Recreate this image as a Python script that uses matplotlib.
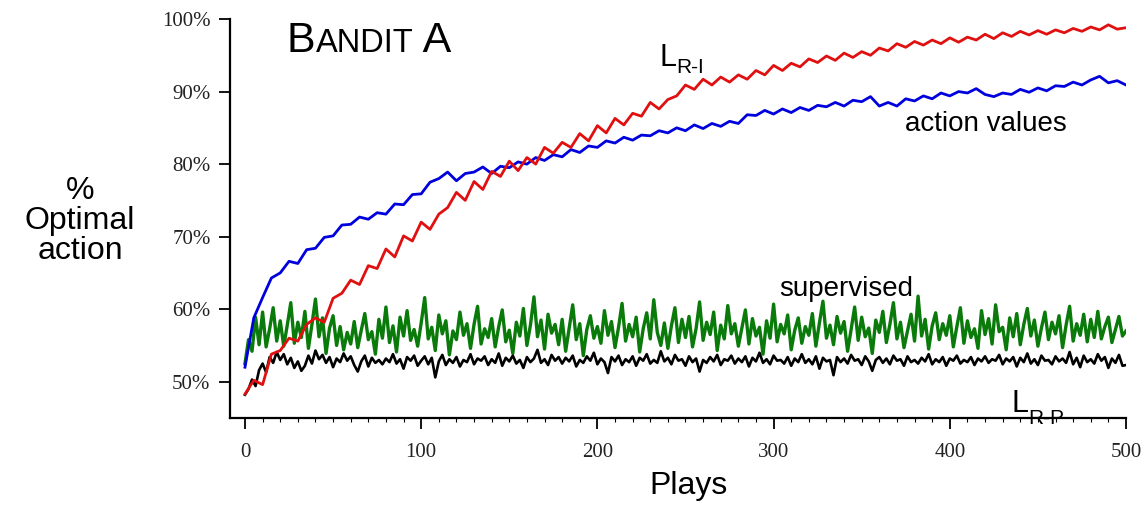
import numpy as np
import matplotlib
matplotlib.use("Agg")
import matplotlib.pyplot as plt
from matplotlib.offsetbox import TextArea, HPacker, AnnotationBbox

# % optimal action
# red / blue sampled every 5 plays, green / black every 2 plays
lri = [48.3, 50.2, 49.6, 53.8, 54.3, 56.0, 55.6, 57.9, 58.8, 58.2,
       61.5, 62.2, 64.0, 63.4, 66.0, 65.6, 68.3, 67.2, 70.1, 69.4,
       72.0, 71.0, 73.1, 74.0, 76.1, 75.0, 77.6, 76.5, 79.0, 78.3,
       80.4, 79.1, 80.9, 80.0, 82.3, 81.5, 83.0, 82.3, 84.2, 83.2,
       85.3, 84.3, 86.3, 85.4, 87.0, 86.6, 88.5, 87.6, 88.9, 89.4,
       90.9, 90.3, 91.7, 90.9, 92.0, 91.3, 92.3, 91.7, 92.9, 92.3,
       93.6, 92.9, 93.9, 93.4, 94.5, 94.0, 94.9, 94.3, 95.3, 94.7,
       95.5, 95.0, 96.0, 95.6, 96.6, 96.1, 96.9, 96.4, 97.1, 96.6,
       97.4, 96.8, 97.5, 97.1, 97.9, 97.3, 98.1, 97.6, 98.3, 97.8,
       98.4, 97.9, 98.5, 98.1, 98.7, 98.3, 98.9, 98.5, 99.2, 98.6,
       98.8]

action_values = [52.0, 58.8, 61.6, 64.3, 65.0, 66.6, 66.3, 68.2, 68.4, 69.9,
                 70.1, 71.6, 71.7, 72.7, 72.4, 73.3, 73.1, 74.5, 74.4, 75.8,
                 75.9, 77.5, 78.0, 78.9, 77.7, 78.7, 78.9, 79.6, 78.7, 79.7,
                 79.5, 80.3, 80.0, 80.9, 80.5, 81.3, 81.0, 82.0, 81.6, 82.5,
                 82.3, 83.2, 82.9, 83.7, 83.3, 84.0, 83.9, 84.6, 84.3, 85.0,
                 84.6, 85.4, 84.9, 85.6, 85.2, 85.9, 85.6, 86.8, 86.7, 87.4,
                 86.9, 87.6, 87.1, 87.8, 87.4, 88.1, 87.9, 88.5, 88.0, 88.8,
                 88.6, 89.3, 88.0, 88.5, 88.0, 89.0, 88.7, 89.4, 89.0, 89.8,
                 89.4, 90.0, 89.8, 90.4, 89.6, 89.3, 89.8, 89.6, 90.3, 89.9,
                 90.5, 90.1, 90.8, 90.7, 91.3, 90.9, 91.6, 92.1, 91.2, 91.5,
                 90.9]

supervised = [52.5, 55.8, 54.2, 58.9, 55.1, 59.6, 54.8, 57.3, 60.2, 55.6,
              58.4, 54.9, 57.8, 60.9, 55.3, 58.2, 56.1, 59.7, 54.6, 57.9,
              61.4, 56.2, 58.8, 53.9, 57.4, 59.1, 55.0, 57.6, 54.4, 56.8,
              55.2, 58.3, 54.7, 57.1, 59.4, 55.8, 56.9, 53.8, 58.6, 56.0,
              60.3, 55.4, 57.7, 54.1, 58.9, 56.3, 59.8, 55.7, 57.2, 54.9,
              58.1, 61.6, 55.9, 57.5, 54.3, 59.2, 56.6, 58.4, 53.7, 57.0,
              55.8, 59.6, 56.4, 58.0, 54.6, 57.9, 60.4, 55.2, 57.3, 56.1,
              58.7, 54.8, 57.6, 59.9, 55.5, 57.1, 53.9, 58.2, 56.3, 60.1,
              55.0, 57.8, 61.7, 56.2, 58.5, 54.5, 59.3, 56.7, 57.9, 55.1,
              58.6, 54.2, 57.4, 60.6, 55.8, 58.0, 53.6, 57.2, 59.1, 56.0,
              57.6, 55.3, 59.8, 56.4, 58.3, 54.7, 57.5, 60.8, 55.6, 57.9,
              56.2, 58.9, 54.1, 57.3, 59.5, 55.9, 61.3, 56.8, 55.0, 58.1,
              54.6, 57.7, 60.2, 55.4, 58.6, 56.1, 59.0, 54.8, 57.3, 61.0,
              55.7, 58.2, 56.5, 59.6, 54.3, 57.8, 55.9, 60.5, 56.6, 58.0,
              54.9, 57.4, 59.9, 55.2, 58.7, 56.3, 57.5, 53.8, 58.4, 56.0,
              60.7, 55.5, 57.9, 56.6, 59.2, 54.4, 57.1, 58.8, 55.3, 57.6,
              56.4, 59.4, 54.9, 58.1, 61.1, 56.0, 57.8, 55.1, 59.0, 56.7,
              58.3, 54.2, 57.2, 60.3, 55.7, 58.9, 56.2, 57.4, 53.9, 58.5,
              56.8, 59.7, 55.4, 57.9, 60.9, 55.9, 58.2, 54.7, 57.0, 59.3,
              55.6, 61.8, 56.3, 58.6, 54.5, 57.7, 59.5, 55.8, 58.0, 56.4,
              59.1, 54.8, 57.6, 60.2, 55.3, 58.4, 56.1, 57.3, 54.6, 59.8,
              56.5, 58.7, 55.2, 60.6, 56.9, 57.5, 54.4, 58.8, 56.2, 59.4,
              55.1, 57.9, 60.1, 56.3, 58.5, 54.9, 57.4, 59.6, 55.8, 58.2,
              56.6, 59.1, 54.7, 57.8, 60.4, 55.6, 58.0, 56.4, 59.3, 55.5,
              58.6, 56.1, 59.7, 55.9, 57.6, 58.9, 55.4, 57.2, 59.0, 56.3,
              57.0]

lrp = [48.2, 49.0, 50.3, 49.4, 51.6, 52.5, 51.3, 53.4, 52.6, 54.1,
       53.0, 53.8, 52.4, 53.3, 51.9, 52.8, 51.5, 52.2, 53.6, 52.5,
       54.3, 53.1, 53.7, 52.6, 53.4, 52.0, 53.2, 52.7, 53.9, 52.9,
       53.5, 52.3, 51.4, 52.8, 53.6, 52.1, 53.3, 52.6, 53.0, 52.4,
       53.2, 52.7, 53.8, 52.5, 53.1, 51.8, 53.4, 52.9, 53.6, 52.2,
       52.9, 53.5, 52.4, 53.3, 50.6, 52.8, 53.7, 52.3, 53.1, 52.6,
       53.4, 52.1, 53.0, 52.7, 53.8, 52.4, 53.2, 52.9, 53.5, 52.3,
       53.1, 52.6, 53.9, 52.2, 53.3, 52.8, 53.6, 52.5, 53.0, 51.9,
       53.4, 52.7, 53.2, 54.4, 52.6, 53.1, 52.3, 53.7, 52.9, 53.4,
       52.5, 53.3, 52.8, 53.6, 52.1, 53.0, 52.6, 53.5, 52.9, 54.0,
       52.4, 53.2, 52.7, 51.2, 53.4, 52.8, 53.6, 52.3, 53.1, 52.7,
       53.5, 52.2, 53.3, 52.9, 53.8, 52.5, 53.0, 52.6, 54.2, 52.8,
       53.3, 52.4, 53.7, 52.9, 53.1, 52.2, 53.5, 52.7, 53.2, 51.4,
       53.0, 52.6, 53.4, 52.8, 53.7, 52.3, 53.1, 52.9, 53.6, 52.5,
       53.2, 52.7, 53.5, 52.1, 53.3, 52.8, 54.0, 52.6, 53.1, 52.4,
       53.6, 52.9, 53.0, 52.5, 53.4, 52.2, 53.2, 52.7, 53.8, 52.6,
       53.1, 52.4, 53.5, 51.8, 53.3, 52.8, 53.0, 50.9, 53.4, 52.7,
       53.2, 52.5, 53.7, 52.9, 53.1, 52.3, 53.5, 52.8, 51.5, 53.0,
       53.4, 52.6, 53.2, 52.4, 53.6, 52.9, 53.1, 52.2, 53.5, 52.7,
       53.0, 52.5, 53.3, 52.8, 53.8, 52.4, 53.1, 52.7, 53.4, 52.2,
       53.2, 52.9, 53.6, 52.5, 53.0, 52.7, 53.4, 52.3, 53.2, 52.8,
       53.5, 52.6, 53.1, 52.9, 53.7, 52.4, 53.2, 52.8, 53.4, 52.1,
       53.3, 52.7, 53.9, 52.5, 53.1, 52.3, 53.6, 52.9, 53.0, 52.4,
       53.5, 52.8, 53.2, 52.6, 54.1, 52.4, 53.3, 52.0, 53.6, 52.7,
       53.1, 52.5, 53.8, 52.9, 53.4, 51.9, 53.2, 52.6, 53.7, 52.2,
       52.3]

x_ticks = [0, 100, 200, 300, 400, 500]
y_ticks = [50, 60, 70, 80, 90, 100]
y_tick_labels = ["50%", "60%", "70%", "80%", "90%", "100%"]

sans = "Liberation Sans"
serif = "Liberation Serif"

fig = plt.figure(figsize=(11.46, 5.13), dpi=100)
ax = fig.add_axes([230 / 1146, 95 / 513, 896 / 1146, 399 / 513])


def plays(values):
    return np.linspace(0, 500, len(values))


ax.plot(plays(supervised), supervised, color="#0a7a0a", lw=2.4)
ax.plot(plays(lrp), lrp, color="black", lw=1.9)
ax.plot(plays(action_values), action_values, color="#0000dd", lw=2.0)
ax.plot(plays(lri), lri, color="#e01010", lw=2.0)

ax.set_xlim(-8.5, 500)
ax.set_ylim(45, 100)
for side in ["top", "right"]:
    ax.spines[side].set_visible(False)
for side in ["left", "bottom"]:
    ax.spines[side].set_linewidth(1.6)

ax.set_xticks(x_ticks)
ax.set_xticklabels([str(t) for t in x_ticks], family=serif, fontsize=15, color="#222222")
ax.set_yticks(y_ticks)
ax.set_yticklabels(y_tick_labels, family=serif, fontsize=15, color="#222222")
ax.set_xticks(np.arange(0, 501, 10), minor=True)
ax.tick_params(axis="both", which="major", direction="out", length=8, width=1.3, pad=6)
ax.tick_params(axis="x", which="major", pad=10)
ax.tick_params(axis="x", which="minor", direction="out", length=3, width=0.8)

# axis titles
fig.text(80 / 1146, 1 - 221 / 513, "%\nOptimal\naction", family=sans, fontsize=23,
         ha="center", va="center", linespacing=1.0)
fig.text(688 / 1146, 1 - 486 / 513, "Plays", family=sans, fontsize=23,
         ha="center", va="center")

# small caps title
title = HPacker(children=[TextArea("B", textprops=dict(family=sans, fontsize=31)),
                          TextArea("ANDIT", textprops=dict(family=sans, fontsize=23.5)),
                          TextArea(" A", textprops=dict(family=sans, fontsize=31))],
                align="baseline", pad=0, sep=0)
ax.add_artist(AnnotationBbox(title, (23.8, 94.2), xycoords="data", box_alignment=(0, 0),
                             frameon=False, pad=0))

# curve labels
ax.text(235.5, 93.5, "L", family=sans, fontsize=22, ha="left", va="baseline")
ax.text(244.8, 92.6, "R-I", family=sans, fontsize=15, ha="left", va="baseline")
ax.text(374.6, 84.6, "action values", family=sans, fontsize=20, ha="left", va="baseline")
ax.text(303, 61.8, "supervised", family=sans, fontsize=20, ha="left", va="baseline")
ax.text(435, 45.8, "L", family=sans, fontsize=22, ha="left", va="baseline", clip_on=False)
ax.text(444.3, 44.2, "R-P", family=sans, fontsize=15, ha="left", va="baseline", clip_on=False)

fig.savefig("out.png", dpi=100)
